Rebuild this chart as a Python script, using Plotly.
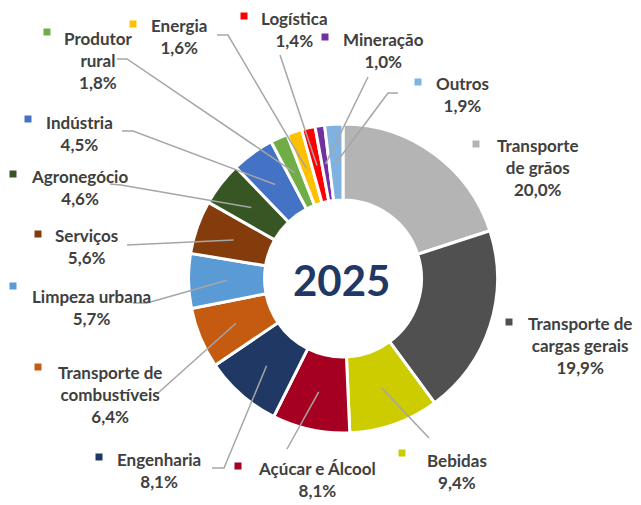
import math
import plotly.graph_objects as go

# ---------------- data ----------------
categories = ["Transporte de grãos", "Transporte de cargas gerais", "Bebidas",
              "Açúcar e Álcool", "Engenharia", "Transporte de combustíveis",
              "Limpeza urbana", "Serviços", "Agronegócio", "Indústria",
              "Produtor rural", "Energia", "Logística", "Mineração", "Outros"]
values = [20.0, 19.9, 9.4, 8.1, 8.1, 6.4, 5.7, 5.6, 4.6, 4.5, 1.8, 1.6, 1.4, 1.0, 1.9]
label_lines = [["Transporte", "de grãos"], ["Transporte de", "cargas gerais"], ["Bebidas"],
               ["Açúcar e Álcool"], ["Engenharia"], ["Transporte de", "combustíveis"],
               ["Limpeza urbana"], ["Serviços"], ["Agronegócio"], ["Indústria"],
               ["Produtor", "rural"], ["Energia"], ["Logística"], ["Mineração"], ["Outros"]]
center_title = "2025"

# ---------------- styles ----------------
colors = ["#B4B4B4", "#505050", "#CCCC00", "#A50021", "#1F3864", "#C55A11",
          "#5B9BD5", "#843C0C", "#375623", "#4472C4", "#70AD47", "#FFC000",
          "#FF0000", "#7030A0", "#7FB2E0"]

W, H = 641, 505
CX, CY, R = 343.0, 278.5, 154.5
HOLE = 0.508
MID_R = 116.0

# label block centers (pixels), marker centers, leader-line label-side points
text_pos = [(538, 167), (580, 345), (457, 471), (317, 479), (159, 470), (110, 394),
            (91, 307), (86, 246), (79, 187), (79, 133), (98, 60), (179, 37),
            (294, 29), (383, 51), (462, 95)]
marker_pos = [(476, 144), (509, 322), (402, 453), (238, 466), (99, 457), (38, 367),
              (13, 286), (38, 234), (13, 174), (28, 119), (47, 32), (133, 24),
              (244, 16), (325, 37), (418, 82)]
leader_end = [None, None, [(429, 438)], [(287, 449)], [(212, 468), (224, 468)],
              [(158, 393)], [(133, 303), (147, 303)], [(127, 245)],
              [(110, 184), (121, 185)], [(122, 131), (133, 131)],
              [(117, 59), (127, 59)], [(217, 35), (228, 35)], [(280, 55)],
              [(368, 77)], [(398, 93), (388, 93)]]

def px(x):
    return x / W

def py(y):
    return 1 - y / H

fig = go.Figure()
fig.add_trace(go.Pie(
    labels=categories, values=values, sort=False, direction="clockwise",
    rotation=0, hole=HOLE, textinfo="none", hoverinfo="label+percent",
    marker=dict(colors=colors, line=dict(color="white", width=3)),
    domain=dict(x=[px(CX - R), px(CX + R)], y=[py(CY + R), py(CY - R)]),
    showlegend=False,
))

shapes = []
annotations = []
total = sum(values)
cum = 0.0
font_fam = "Lato, 'Open Sans', sans-serif"
for i, v in enumerate(values):
    mid = (cum + v / 2) / total
    cum += v
    ang = 2 * math.pi * mid
    sx = CX + MID_R * math.sin(ang)
    sy = CY - MID_R * math.cos(ang)
    if leader_end[i]:
        pts = leader_end[i] + [(sx, sy)]
        path = "M " + " L ".join(f"{px(x):.5f},{py(y):.5f}" for x, y in pts)
        shapes.append(dict(type="path", path=path, xref="paper", yref="paper",
                           line=dict(color="#A6A6A6", width=1.5)))
    mx, my = marker_pos[i]
    shapes.append(dict(type="rect", xref="paper", yref="paper",
                       x0=px(mx - 3.5), x1=px(mx + 3.5), y0=py(my + 3.5), y1=py(my - 3.5),
                       fillcolor=colors[i], line=dict(width=0)))
    pct = f"{v:.1f}".replace(".", ",") + "%"
    txt = "<br>".join(f"<b>{t}</b>" for t in label_lines[i] + [pct])
    tx, ty = text_pos[i]
    annotations.append(dict(x=px(tx), y=py(ty), xref="paper", yref="paper",
                            text=txt, showarrow=False, xanchor="center", yanchor="middle",
                            align="center",
                            font=dict(family=font_fam, size=17, color="#404040")))

annotations.append(dict(x=px(341), y=py(280), xref="paper", yref="paper",
                        text=f"<b>{center_title}</b>", showarrow=False,
                        xanchor="center", yanchor="middle",
                        font=dict(family=font_fam, size=42, color="#1F3864")))

fig.update_layout(width=W, height=H, margin=dict(l=0, r=0, t=0, b=0),
                  paper_bgcolor="white", plot_bgcolor="white",
                  shapes=shapes, annotations=annotations)
fig.write_html("out.html", config={"displayModeBar": False},
               post_script="document.body.style.margin='0';document.body.style.overflow='hidden';")
